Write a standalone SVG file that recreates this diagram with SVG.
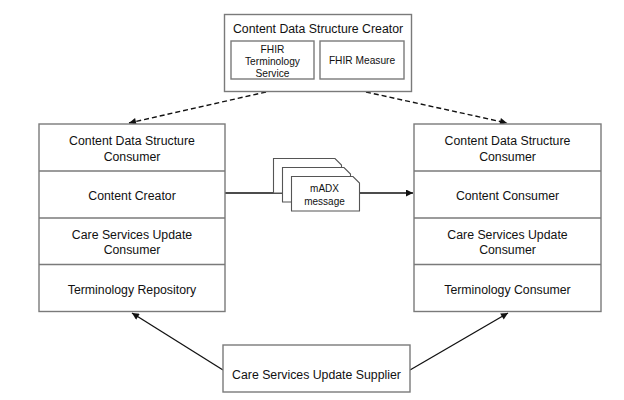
<svg xmlns="http://www.w3.org/2000/svg" width="624" height="400" viewBox="0 0 624 400">
<style>
.box{fill:#fff;stroke:#7a7a7a;stroke-width:1.4}
.div{stroke:#7a7a7a;stroke-width:1.4}
.t{font-family:"Liberation Sans",Arial,sans-serif;font-size:12.3px;fill:#111;text-anchor:middle}
.s{font-family:"Liberation Sans",Arial,sans-serif;font-size:10.2px;fill:#111;text-anchor:middle}
.m{font-family:"Liberation Sans",Arial,sans-serif;font-size:10px;fill:#111;text-anchor:middle}
.ln{fill:none;stroke:#111;stroke-width:1.3}
.dash{fill:none;stroke:#111;stroke-width:1.4;stroke-dasharray:5 3}
.card{fill:#fff;stroke:#555;stroke-width:1.1}
</style>
<defs>
<marker id="ah" viewBox="0 0 10 10" refX="10" refY="5" markerWidth="8" markerHeight="7" markerUnits="userSpaceOnUse" orient="auto">
<path d="M0,0 L10,5 L0,10 z" fill="#111"/>
</marker>
</defs>
<rect width="624" height="400" fill="#fff"/>

<g id="connectors">
<line class="dash" x1="266" y1="92" x2="129" y2="123" marker-end="url(#ah)"/>
<line class="dash" x1="366" y1="92" x2="507" y2="123" marker-end="url(#ah)"/>
<line class="ln" x1="225" y1="193" x2="413" y2="193" marker-end="url(#ah)"/>
<line class="ln" x1="223" y1="370" x2="132" y2="313" marker-end="url(#ah)"/>
<line class="ln" x1="410" y1="370" x2="508" y2="313" marker-end="url(#ah)"/>
</g>

<g id="creator">
<rect class="box" x="224.5" y="14.5" width="187" height="77"/>
<text class="t" x="318" y="32.5" font-size="12.5">Content Data Structure Creator</text>
<g id="fhir-terminology">
<rect class="box" x="231" y="41" width="83" height="38"/>
<text class="s" x="272.5" y="52.5">FHIR</text>
<text class="s" x="272.5" y="65">Terminology</text>
<text class="s" x="272.5" y="77">Service</text>
</g>
<g id="fhir-measure">
<rect class="box" x="320" y="41" width="84" height="38"/>
<text class="s" x="362" y="63.5">FHIR Measure</text>
</g>
</g>

<g id="left-stack">
<rect class="box" x="39" y="124" width="186" height="187.5"/>
<line class="div" x1="39" y1="171" x2="225" y2="171"/>
<line class="div" x1="39" y1="218" x2="225" y2="218"/>
<line class="div" x1="39" y1="264.5" x2="225" y2="264.5"/>
<text class="t" x="132" y="144.5">Content Data Structure</text>
<text class="t" x="132" y="160.5">Consumer</text>
<text class="t" x="132" y="199.5">Content Creator</text>
<text class="t" x="132" y="238.5">Care Services Update</text>
<text class="t" x="132" y="254">Consumer</text>
<text class="t" x="132" y="293.5">Terminology Repository</text>
</g>

<g id="right-stack">
<rect class="box" x="414" y="124" width="187" height="187.5"/>
<line class="div" x1="414" y1="171" x2="601" y2="171"/>
<line class="div" x1="414" y1="218" x2="601" y2="218"/>
<line class="div" x1="414" y1="264.5" x2="601" y2="264.5"/>
<text class="t" x="507.5" y="144.5">Content Data Structure</text>
<text class="t" x="507.5" y="160.5">Consumer</text>
<text class="t" x="507.5" y="199.5">Content Consumer</text>
<text class="t" x="507.5" y="238.5">Care Services Update</text>
<text class="t" x="507.5" y="254">Consumer</text>
<text class="t" x="507.5" y="293.5">Terminology Consumer</text>
</g>

<g id="madx-message">
<path class="card" d="M273.5,158.5 H335 L341.5,165 V193 H273.5 Z"/>
<path class="card" d="M282.5,167.5 H344 L350.5,174 V202 H282.5 Z"/>
<path class="card" d="M291.5,176.5 H353 L359.5,183 V211 H291.5 Z"/>
<text class="m" x="324.5" y="191.5">mADX</text>
<text class="m" x="324.5" y="205">message</text>
</g>

<g id="supplier">
<rect class="box" x="223" y="345" width="187" height="47"/>
<text class="t" x="316.5" y="379">Care Services Update Supplier</text>
</g>
</svg>
